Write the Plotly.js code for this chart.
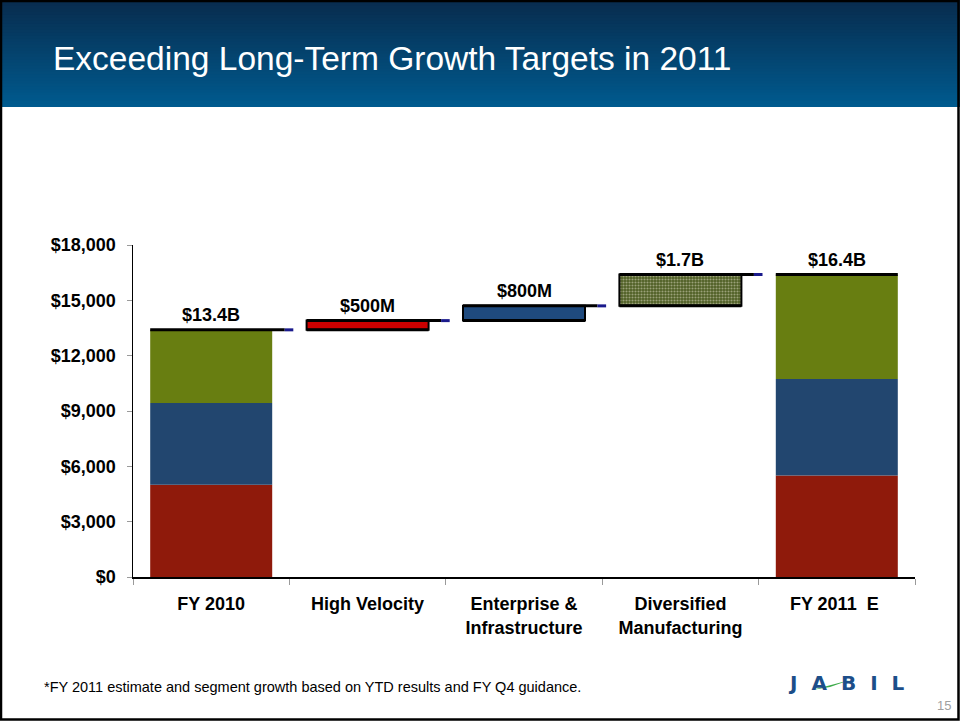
<!DOCTYPE html>
<html>
<head>
<meta charset="utf-8">
<script src="https://cdn.plot.ly/plotly-3.0.1.min.js"></script>
<style>
  html, body { margin: 0; padding: 0; background: #ffffff; }
  #chart { width: 960px; height: 721px; }
</style>
</head>
<body>
<div id="chart"></div>
<script>
// ---------------- DATA ----------------
const categories = ['FY 2010', 'High Velocity', 'Enterprise & Infrastructure', 'Diversified Manufacturing', 'FY 2011'];
const tickLabels = ['FY 2010', 'High Velocity', 'Enterprise &<br>Infrastructure', 'Diversified<br>Manufacturing', 'FY 2011\u00a0\u00a0E\u00a0'];
// segment revenue ($M) for the two totals: [FY 2010, FY 2011]
const highVelocitySeg = [5000, 5500];
const enterpriseSeg   = [4430, 5230];
const diversifiedSeg  = [3970, 5670];
// growth steps ($M): High Velocity, Enterprise & Infrastructure, Diversified Manufacturing
const growthSteps = [500, 800, 1700];
const valueLabels = ['$13.4B', '$500M', '$800M', '$1.7B', '$16.4B'];
const yTickValues = [0, 3000, 6000, 9000, 12000, 15000, 18000];
const yTickLabels = ['$0', '$3,000', '$6,000', '$9,000', '$12,000', '$15,000', '$18,000'];

// ---------------- DERIVED ----------------
const totalStart = highVelocitySeg[0] + enterpriseSeg[0] + diversifiedSeg[0];
const stepBases = [];
let running = totalStart;
growthSteps.forEach(v => { stepBases.push(running); running += v; });
const totalEnd = running;
const levels = [totalStart].concat(growthSteps.map((v, i) => stepBases[i] + v));
levels.push(totalEnd);

// ---------------- LAYOUT HELPERS ----------------
const W = 960, H = 721;
const PL = 133, PR = 915, PT = 245, PB = 577;
const fx = px => (px - PL) / (PR - PL);
const fy = py => (PB - py) / (PB - PT);

const BW = 0.78;
const FONT = 'Liberation Sans, Arial, Helvetica, sans-serif';

const darkRed = '#8F1A0B', darkBlue = '#22466F', olive = '#687E11';

const totalsX = [categories[0], categories[4]];
const traces = [
  { type: 'bar', x: totalsX, y: highVelocitySeg, base: [0, 0], width: BW,
    marker: { color: darkRed, line: { width: 0 } }, hoverinfo: 'skip', showlegend: false },
  { type: 'bar', x: totalsX, y: enterpriseSeg, base: highVelocitySeg.slice(), width: BW,
    marker: { color: darkBlue, line: { width: 0 } }, hoverinfo: 'skip', showlegend: false },
  { type: 'bar', x: totalsX, y: diversifiedSeg,
    base: highVelocitySeg.map((v, i) => v + enterpriseSeg[i]), width: BW,
    marker: { color: olive, line: { width: 0 } }, hoverinfo: 'skip', showlegend: false },
  { type: 'bar', x: [categories[1]], y: [growthSteps[0]], base: [stepBases[0]], width: BW,
    marker: { color: '#CC0000', line: { color: '#000', width: 2 } }, hoverinfo: 'skip', showlegend: false },
  { type: 'bar', x: [categories[2]], y: [growthSteps[1]], base: [stepBases[1]], width: BW,
    marker: { color: '#1F4A7E', line: { color: '#000', width: 2 } }, hoverinfo: 'skip', showlegend: false },
  { type: 'bar', x: [categories[3]], y: [growthSteps[2]], base: [stepBases[2]], width: BW,
    marker: { color: '#56672A', line: { color: '#000', width: 2 },
      pattern: { shape: '.', fgcolor: '#9AA079', bgcolor: '#4E5F24', size: 3, solidity: 0.4 } },
    hoverinfo: 'skip', showlegend: false }
];

// ---------------- SHAPES ----------------
const shapes = [];
// header gradient band
const NB = 36, HB = 107;
const c0 = [8, 44, 78], c1 = [0, 90, 142];
for (let i = 0; i < NB; i++) {
  const t = i / (NB - 1);
  const c = c0.map((v, k) => Math.round(v + (c1[k] - v) * t));
  const yTop = i * HB / NB;
  const yBot = Math.min(HB, (i + 1) * HB / NB + 2);
  shapes.push({ type: 'rect', xref: 'paper', yref: 'paper', layer: 'below',
    x0: fx(-2), x1: fx(W + 2), y0: fy(yTop), y1: fy(yBot),
    fillcolor: `rgb(${c[0]},${c[1]},${c[2]})`, line: { width: 0, color: 'rgba(0,0,0,0)' } });
}
// connector lines (waterfall steps)
for (let i = 0; i < 4; i++) {
  shapes.push({ type: 'line', xref: 'x', yref: 'y', layer: 'above',
    x0: i - BW / 2, x1: i + 0.47, y0: levels[i], y1: levels[i], line: { color: '#000', width: 3 } });
  shapes.push({ type: 'line', xref: 'x', yref: 'y', layer: 'above',
    x0: i + 0.47, x1: i + 0.525, y0: levels[i], y1: levels[i], line: { color: '#1A1A8C', width: 3 } });
}
for (let i = 1; i < 4; i++) {
  shapes.push({ type: 'line', xref: 'x', yref: 'y', layer: 'above',
    x0: i - BW / 2, x1: i + BW / 2, y0: stepBases[i - 1], y1: stepBases[i - 1], line: { color: '#000', width: 3 } });
}
shapes.push({ type: 'line', xref: 'x', yref: 'y', layer: 'above',
  x0: 4 - BW / 2, x1: 4 + BW / 2, y0: totalEnd, y1: totalEnd, line: { color: '#000', width: 3 } });
// logo swoosh
shapes.push({ type: 'path', xref: 'paper', yref: 'paper', layer: 'above',
  path: `M ${fx(812)} ${fy(690)} L ${fx(850)} ${fy(680)} L ${fx(830)} ${fy(687)} Z`,
  fillcolor: '#3DAA4A', line: { width: 0 } });
// slide border
shapes.push({ type: 'rect', xref: 'paper', yref: 'paper', layer: 'above',
  x0: fx(1), x1: fx(W - 1.5), y0: fy(1), y1: fy(H - 1.5), line: { color: '#000', width: 2.5 } });

// ---------------- ANNOTATIONS ----------------
const annotations = valueLabels.map((t, i) => ({
  xref: 'x', yref: 'y', x: i, y: levels[i], text: t, showarrow: false,
  yanchor: 'middle', xanchor: 'center', yshift: 15,
  font: { family: FONT, size: 18, color: '#000', weight: 'bold' }
}));
annotations.push({ xref: 'paper', yref: 'paper', x: fx(42), y: fy(687), xanchor: 'left', yanchor: 'middle',
  text: '*FY 2011 estimate and segment growth based on YTD results and FY Q4 guidance.', showarrow: false,
  font: { family: FONT, size: 14.5, color: '#000' } });
annotations.push({ xref: 'paper', yref: 'paper', x: fx(846), y: fy(683), xanchor: 'center', yanchor: 'middle',
  text: 'J\u2002\u2009A\u2002\u2009B\u2002\u2009I\u2002\u2009L', showarrow: false,
  font: { family: 'DejaVu Sans, sans-serif', size: 20, color: '#1C4E89', weight: 'bold' } });
annotations.push({ xref: 'paper', yref: 'paper', x: fx(944), y: fy(705), xanchor: 'center', yanchor: 'middle',
  text: '15', showarrow: false, font: { family: FONT, size: 13, color: '#A0A0A0' } });

const layout = {
  width: W, height: H,
  margin: { l: PL, r: W - PR, t: PT, b: H - PB, pad: 0 },
  paper_bgcolor: '#ffffff', plot_bgcolor: 'rgba(0,0,0,0)',
  barmode: 'overlay', showlegend: false,
  title: { text: 'Exceeding Long-Term Growth Targets in 2011', xref: 'container', yref: 'container',
    x: 53 / W, xanchor: 'left', y: 1 - 58 / H, yanchor: 'middle',
    font: { family: FONT, size: 33.5, color: '#ffffff' } },
  xaxis: {
    type: 'category', categoryorder: 'array', categoryarray: categories,
    tickmode: 'array', tickvals: categories, ticktext: tickLabels,
    tickson: 'boundaries', ticks: 'outside', ticklen: 6, tickcolor: '#9A9A9A', tickwidth: 1,
    showline: true, linecolor: '#000', linewidth: 1.5, showgrid: false, zeroline: false,
    range: [-0.5, 4.5], fixedrange: true, ticklabelstandoff: 10,
    tickfont: { family: FONT, size: 18, color: '#000', weight: 'bold' }
  },
  yaxis: {
    range: [0, 18000], tickmode: 'array', tickvals: yTickValues, ticktext: yTickLabels,
    ticks: 'outside', ticklen: 5, tickcolor: '#9A9A9A', tickwidth: 1,
    showline: true, linecolor: '#000', linewidth: 1.5, showgrid: false, zeroline: false,
    fixedrange: true, ticklabelstandoff: 7,
    tickfont: { family: FONT, size: 18, color: '#000', weight: 'bold' }
  },
  shapes: shapes, annotations: annotations
};

Plotly.newPlot('chart', traces, layout, { staticPlot: true, displayModeBar: false });
</script>
</body>
</html>
